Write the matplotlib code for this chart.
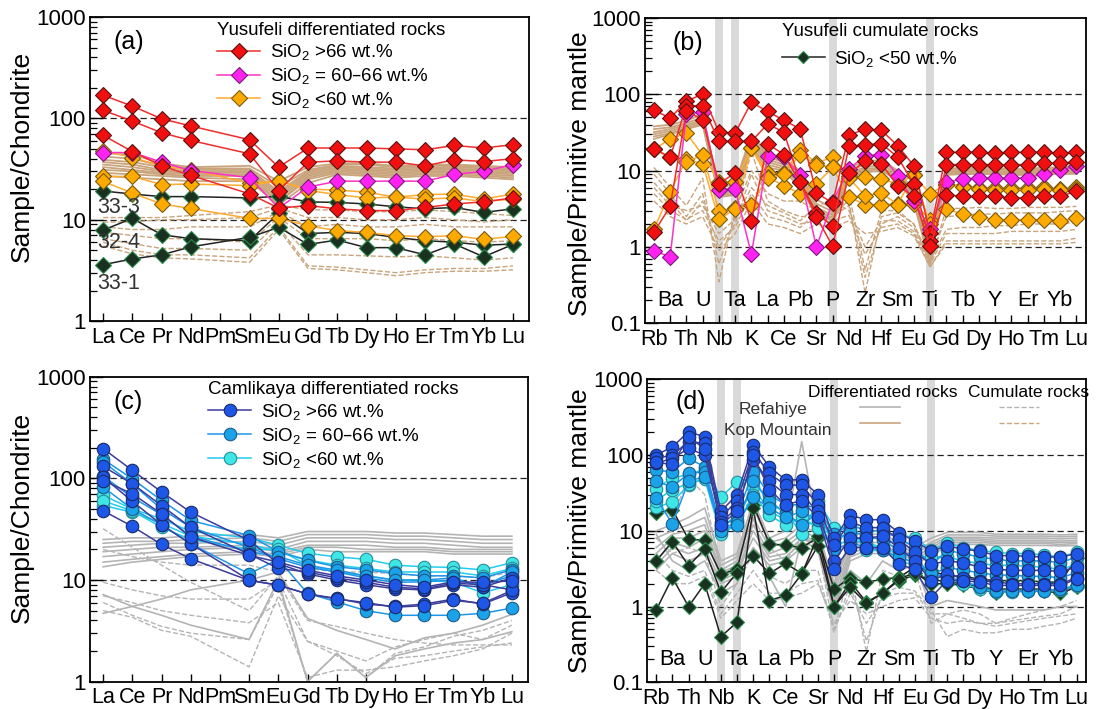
import matplotlib
matplotlib.use('Agg')
import matplotlib.pyplot as plt
from matplotlib.lines import Line2D
from matplotlib.ticker import FixedLocator, LogLocator, NullFormatter

plt.rcParams['font.family'] = ['Liberation Sans', 'DejaVu Sans']
plt.rcParams['mathtext.default'] = 'regular'

# element orders
ree = ['La', 'Ce', 'Pr', 'Nd', 'Pm', 'Sm', 'Eu', 'Gd', 'Tb', 'Dy', 'Ho', 'Er', 'Tm', 'Yb', 'Lu']
ree_used = ['La', 'Ce', 'Pr', 'Nd', 'Sm', 'Eu', 'Gd', 'Tb', 'Dy', 'Ho', 'Er', 'Tm', 'Yb', 'Lu']
spider = ['Rb', 'Ba', 'Th', 'U', 'Nb', 'Ta', 'K', 'La', 'Ce', 'Pb', 'Sr', 'P', 'Nd', 'Zr',
          'Hf', 'Sm', 'Eu', 'Ti', 'Gd', 'Tb', 'Dy', 'Y', 'Ho', 'Er', 'Tm', 'Yb', 'Lu']
grey_bars = ['Nb', 'Ta', 'P', 'Ti']

# ---- (a) Yusufeli, chondrite normalised (La..Lu without Pm)
a_red = [
    [169, 132, 99, 84, 61.5, 33, 51, 51, 51, 50, 49, 54, 51, 55],
    [120, 94, 72, 60.5, 44.7, 19.4, 37, 38, 37, 37, 34, 39, 37.5, 40],
    [68, 47, 34, 27.3, 18, 13, 13.8, 12.8, 12.3, 12.3, 13.2, 14.3, 15, 16.4],
]
a_magenta = [[46, 46, 37, 30.5, 26, 13, 21, 24, 24, 24, 24, 28, 30, 35]]
a_orange = [
    [48, 41, 34, 31, 23, 24, 20, 19.6, 18.7, 16.7, 17.7, 17.9, 16, 17.9],
    [26.7, 26.7, 22.2, 22.5, 21.7, 24.3, 19.4, 17.7, 16.4, 16.7, 16, 16.4, 15.1, 16],
    [23.9, 18.3, 14.3, 12.9, 10.3, 10.3, 8.7, 7.8, 7.5, 6.95, 6.8, 6.95, 6.4, 6.85],
]
a_green = [
    [19.2, 17.9, 16.9, 16.9, 16.4, 17, 15, 14.8, 14.3, 13.4, 12.8, 13.2, 11.8, 12.8],
    [7.9, 10.3, 7.1, 6.5, 6.2, 11.6, 7.3, 7.5, 7.3, 6.7, 6.2, 6.0, 5.6, 5.75],
    [3.6, 4.1, 4.5, 5.4, 6.7, 8.4, 5.7, 6.3, 5.3, 5.3, 4.5, 5.75, 4.3, 5.7],
]
a_tan = [
    [45, 44, 36, 33, 34, 24, 33, 36, 36, 34, 35, 35, 34, 33],
    [42, 40, 34, 32, 32, 21, 31, 35, 35, 33, 34, 34, 33, 32],
    [39, 37, 33, 31, 31, 19, 30, 34, 33, 32, 33, 33, 32, 31],
    [37, 35, 31, 30, 30, 18, 29, 33, 32, 31, 32, 32, 31, 30],
    [35, 33, 30, 29, 29, 17, 28, 32, 31, 30, 31, 31, 30, 29],
    [33, 31, 29, 28, 28, 16, 27, 31, 30, 29, 30, 30, 29, 28],
    [31, 30, 28, 27, 27, 15, 26, 30, 29, 28, 29, 29, 28, 27],
    [29, 28, 27, 26, 25, 15, 25, 29, 28, 27, 28, 28, 27, 26],
    [27, 26, 25, 24, 24, 14, 23, 28, 27, 26, 27, 27, 26, 25],
]
a_tan_dash = [
    [10.5, 10.5, 10.5, 11, 12, 14, 12.5, 12.5, 12, 12, 12.5, 12, 11.5, 11],
    [9.5, 9.5, 10, 10, 10.5, 13, 10.5, 10.5, 10, 10, 10.5, 10, 9.5, 10],
    [8.5, 8, 8, 8.5, 8.5, 12, 8.5, 9, 8.5, 8.5, 9, 8.5, 8.5, 8.5],
    [7.5, 7, 6.5, 6.5, 6, 10.5, 6.5, 6.5, 6.5, 6.2, 6.5, 6.2, 6, 6.2],
    [6.5, 5.8, 5.2, 5.2, 5, 9.5, 4.5, 4.5, 4.4, 4.3, 4.4, 4.2, 4, 4.2],
    [6, 5, 4.5, 4.5, 4.2, 8.5, 3.5, 3.4, 3.2, 3, 3.2, 3.3, 3.3, 3.5],
    [5.5, 4.6, 4.2, 4.1, 3.8, 8, 3.3, 3.2, 3, 2.8, 3, 3.1, 3.1, 3.2],
]
a_sample_names = ['33-3', '32-4', '33-1']

# ---- (b) Yusufeli, primitive mantle normalised
b_red = [
    [61.7, 49, 81, 101, 32, 31, 78.6, 59.6, 45.7, 35.2, 5.1, 3.8, 29, 35.2, 33.8, 21.3, 11.6, 1.52,
     17.4, 17.4, 17.4, 17, 17.4, 17.4, 17.4, 17, 17.4],
    [19.4, 15, 71, 71, 24.2, 24.2, 24.2, 40.8, 31.9, 7.2, 2.8, 1.86, 20.8, 21.9, 22.6, 15.1, 6.7, 1.2,
     12, 12, 12, 12, 12, 12, 12.5, 12.5, 13],
    [1.56, 3.4, 61, 46.4, 6.75, 9.3, 2.17, 22.6, 16.2, 7.0, 2.5, 1.02, 9.3, 13.2, 12.3, 6.35, 4.6, 1.02,
     4.85, 4.6, 4.6, 4.6, 4.4, 4.4, 4.6, 4.6, 5.4],
]
b_magenta = [[0.88, 0.75, 56, 58, 5.5, 5.8, 0.8, 15.4, 15, 8.8, 1.0, 3.9, 10.5, 15.7, 16.2, 8.6, 3.96, 1.7,
              7.0, 7.8, 8.0, 8.0, 8.0, 8.0, 9.1, 10.1, 11.6]]
b_orange = [
    [19, 26, 31, 16, 3.0, 3.2, 20, 9.3, 9.3, 18.8, 12.6, 15, 8.5, 8.2, 7.8, 6.7, 8.8, 4.95,
     6.7, 6.35, 6.0, 5.9, 5.9, 5.9, 6.1, 5.7, 6.1],
    [1.7, 5.25, 14.2, 12.3, 2.3, 3.15, 3.6, 8.2, 6.35, 5.0, 6.75, 11, 4.5, 3.6, 3.6, 3.66, 3.7, 2.28,
     3.1, 2.73, 2.5, 2.28, 2.28, 2.28, 2.28, 2.2, 2.4],
    [19, 15, 12.9, 16.2, 7.1, 7.1, 19.8, 8.0, 9.0, 16.2, 12, 11, 8, 4.7, 5.1, 3.6, 8.8, 2.0,
     6.4, 6.1, 5.8, 5.6, 5.6, 5.5, 5.8, 5.5, 5.8],
]
b_tan = [
    [38, 40, 45, 55, 5.8, 6.8, 30, 16, 14, 10, 4.2, 3.2, 11, 13, 14, 10, 5.5, 0.9, 10.5, 11, 11, 11, 10.5, 10.5, 11, 11, 11.5],
    [35, 37, 42, 50, 5.4, 6.2, 27, 15, 13, 9, 3.7, 2.9, 10, 12, 13, 9.5, 5.1, 0.8, 10, 10.5, 10.5, 10.5, 10, 10, 10.5, 10.5, 11],
    [32, 35, 40, 46, 5.1, 5.7, 24, 14, 12, 8.2, 3.3, 2.6, 9.5, 11, 12, 9, 4.7, 0.75, 9.6, 10, 10, 10, 9.6, 9.7, 10, 10, 10.3],
    [30, 33, 38, 44, 4.9, 5.3, 22, 13, 11.2, 7.3, 3.0, 2.4, 9, 10.5, 11, 8.5, 4.4, 0.7, 9.3, 9.6, 9.7, 9.6, 9.3, 9.3, 9.6, 9.6, 9.8],
    [28, 31, 36, 42, 4.7, 5.0, 20, 12, 10.5, 6.6, 2.8, 2.2, 8.5, 10, 10.5, 8, 4.1, 0.65, 9, 9.3, 9.3, 9.3, 9, 9, 9.3, 9.3, 9.4],
    [26, 30, 35, 40, 4.5, 4.8, 19, 11, 10, 6, 2.6, 2.0, 8, 9.5, 10, 7.5, 3.8, 0.6, 8.8, 9, 9, 9, 8.8, 8.8, 9, 9, 9.1],
]
b_tan_dash = [
    [11, 6, 3.5, 8, 0.35, 3, 10, 5, 4, 4, 3, 2.2, 5, 0.5, 3, 3, 2, 0.6, 3.2, 3.2, 3.3, 3.2, 3.2, 3.3, 3.3, 3.3, 3.4],
    [9, 5, 2.5, 5, 0.6, 2.5, 18, 4, 3, 2.5, 2.5, 2.8, 4, 0.25, 2.5, 2.8, 2, 0.7, 2.5, 2.6, 2.7, 2.7, 2.8, 2.8, 2.8, 2.9, 3.0],
    [7, 4, 2.2, 4, 1.0, 2, 9, 3, 2.5, 2, 2.2, 2.5, 3.5, 0.4, 2, 2.5, 1.8, 0.65, 1.7, 1.8, 1.8, 1.9, 1.9, 2.0, 2.0, 2.0, 2.1],
    [6, 3.5, 3, 3.5, 1.5, 2.3, 6, 3.5, 2.8, 2.2, 3.5, 4, 3, 1.0, 2.2, 2.2, 1.6, 0.6, 1.5, 1.5, 1.5, 1.5, 1.6, 1.6, 1.6, 1.6, 1.7],
    [5, 3, 2.3, 3, 1.2, 1.8, 5, 2.5, 2.2, 1.8, 2.8, 2.2, 2.6, 0.8, 1.8, 2, 1.5, 0.55, 1.2, 1.2, 1.2, 1.2, 1.2, 1.2, 1.2, 1.2, 1.3],
    [4, 2.5, 2.0, 2.5, 0.9, 1.5, 4, 2, 1.8, 1.5, 2, 1.8, 2.2, 1.5, 1.6, 1.8, 1.4, 0.55, 1.1, 1.1, 1.1, 1.1, 1.1, 1.1, 1.1, 1.1, 1.15],
]

# ---- (c) Camlikaya, chondrite normalised
c_dark = [
    [196, 120, 73.5, 46.5, 24.5, 14.5, 11.5, 10, 9, 8.2, 8, 9, 8.5, 10.5],
    [131, 88.6, 54, 33, 18, 13, 12, 10.5, 9.5, 8.5, 8.2, 9.3, 9, 8],
    [48, 33.7, 22.4, 16.2, 9.9, 8.9, 7.3, 6.6, 5.8, 5.5, 5.8, 6.5, 5.8, 7.5],
    [103, 59.5, 35, 22.7, 10, 8.9, 7.3, 6.5, 6, 5.4, 5.6, 6.3, 5.9, 7.9],
    [95, 70.6, 44.7, 26.5, 17.5, 15, 12.5, 11, 10, 9, 8.5, 9.6, 9.5, 9.8],
]
c_mid = [
    [154, 99, 60.7, 38.6, 27.4, 19, 15.6, 13.5, 12.6, 11.6, 11, 11, 10.5, 12.6],
    [145, 88, 50, 33, 21, 16.2, 13.4, 12, 10.5, 9.5, 9.6, 10, 9, 11],
    [82, 50, 35, 22.7, 11.5, 16, 7.4, 6.1, 5.0, 4.5, 4.5, 4.5, 4.7, 5.3],
    [105, 65, 44, 27, 19, 17, 14, 12.5, 11, 10, 10, 10.5, 8.5, 12],
]
c_light = [
    [68, 50, 40, 30, 26, 22, 18.3, 16.9, 16, 14, 13.5, 13.3, 12.6, 14.8],
    [54, 46.5, 36, 27, 22.5, 19, 15.8, 14, 13, 12, 12, 12, 11, 13],
    [60, 48, 33, 25, 20, 20, 14, 12, 11, 10, 10, 9.5, 7.5, 9],
]
c_grey = [
    [25, 26, 26, 27, 28, 26, 30, 30, 30, 29, 29, 28, 27, 27],
    [23, 24, 24, 25, 26, 24, 28, 28, 28, 27, 27, 26, 25, 25],
    [21, 22, 23, 23, 24, 22, 26, 26, 26, 25, 25, 24, 23, 23],
    [19, 20, 21, 21, 22, 20, 24, 24, 24, 23, 23, 22, 21, 21],
    [17, 18, 19, 20, 21, 19, 22, 22, 22, 21, 21, 20, 20, 20],
    [15, 16, 17, 18, 19, 18, 21, 21, 20, 20, 20, 19, 19, 19],
    [13.5, 15, 16, 17, 18, 17, 20, 19, 19, 19, 19, 18, 18, 18],
    [4.7, 5.5, 6.5, 8, 10, 12, 4.2, 3.2, 2.6, 2.1, 2.7, 3.0, 3.6, 4.6],
    [7.2, 5.5, 4.5, 3.6, 2.6, 10, 1.0, 1.9, 1.1, 1.8, 2.1, 2.4, 2.6, 3.1],
]
c_grey_dash = [
    [32, 21, 14, 9.5, 5, 11, 4, 3.5, 3.0, 2.6, 2.4, 2.3, 2.3, 2.3],
    [9.5, 8, 7, 6.5, 6.5, 10, 2.5, 1.8, 1.2, 1.7, 1.8, 2.0, 2.2, 2.4],
    [7, 6, 5, 4.5, 3.8, 6, 1.1, 1.3, 1.3, 1.4, 1.6, 1.8, 2.1, 3.0],
    [6, 4.5, 3.5, 3.0, 2.6, 9, 1.0, 1.9, 1.1, 1.9, 2.2, 2.8, 3.2, 4.0],
    [5, 4.3, 3.2, 2.8, 1.4, 7, 2.5, 2.0, 1.6, 2.2, 2.6, 3.0, 2.6, 3.6],
    [20, 17, 15, 14, 14, 12, 13, 12, 12, 11.5, 11, 11, 10.5, 12],
]

# ---- (d) Camlikaya, primitive mantle normalised
d_dark = [
    [100, 128, 202, 174, 18, 30, 135, 70, 47, 47, 30, 8, 16, 14, 14, 9.4, 7.3, 5.4, 6.3, 5.7, 5.4, 4.7, 4.7, 4.6, 4.5, 4.5, 5.0],
    [90, 100, 150, 143, 15, 25, 110, 57, 40, 40, 22, 6.5, 13, 11, 11, 7.7, 5.2, 3.6, 4.0, 3.8, 3.3, 3.1, 3.0, 3.0, 3.0, 2.9, 3.3],
    [78, 90, 122, 100, 13, 20, 86, 45, 30, 30, 18, 4, 8, 8, 8.5, 6.0, 4.0, 2.2, 2.7, 2.4, 2.2, 2.1, 2.0, 2.0, 2.0, 2.0, 2.4],
    [80, 75, 174, 120, 12, 18, 100, 35, 22, 25, 15, 3.1, 6, 6, 6, 3.6, 3.1, 1.33, 2.2, 2.2, 2.1, 1.9, 1.9, 1.9, 1.9, 1.9, 2.3],
]
d_mid = [
    [63, 60, 90, 70, 11, 16, 60, 30, 22, 22, 20, 9, 12, 10, 10, 8, 6, 3.5, 5.5, 5, 4.5, 4.2, 4, 4, 4, 3.8, 4.5],
    [45, 38, 57, 60, 10.4, 13, 45, 25, 17, 12, 17, 7, 10, 8.5, 7.5, 5.5, 4.5, 2.6, 3.3, 3, 2.8, 2.6, 2.6, 2.5, 2.5, 2.4, 2.8],
    [27, 12.3, 45, 52, 10, 12, 28, 20, 15, 18, 14, 5.5, 7, 6, 5.5, 4.5, 3.8, 2.8, 2.4, 2.2, 1.8, 1.6, 1.6, 1.6, 1.6, 1.7, 1.9],
]
d_light = [
    [36, 50, 55, 65, 28, 44, 50, 22, 18, 9, 25, 11, 11, 5.5, 5.5, 9, 8, 5.6, 6.8, 6, 5.5, 5.2, 5, 5, 4.8, 4.5, 5.2],
    [20.4, 24, 40, 50, 12, 14, 38, 18, 14, 13, 12, 8, 9, 7, 6, 5, 4.5, 4.5, 4.5, 4, 3.7, 3.5, 3.5, 3.4, 3.3, 3.1, 3.6],
    [25, 35, 42, 48, 9, 12, 30, 16, 12, 15, 11, 6, 8, 6.5, 6, 4, 3.5, 2.5, 2.4, 2, 1.7, 1.55, 1.55, 1.6, 1.6, 1.65, 1.88],
]
d_green = [
    [17.2, 19, 7.7, 7.5, 2.68, 3.1, 22, 6.75, 6.4, 6.0, 8.1, 1.7, 2.4, 2.08, 2.3, 2.42, 3.3, 3.0,
     2.5, 2.5, 2.3, 2.2, 2.2, 2.2, 2.1, 2.1, 4.4],
    [4.0, 7.2, 3.45, 5.7, 1.54, 2.8, 4.66, 2.73, 3.7, 2.73, 6.3, 1.0, 2.1, 1.14, 1.5, 2.2, 2.6, 2.3,
     2.1, 2.0, 1.8, 1.7, 1.7, 1.7, 1.7, 1.6, 1.9],
    [0.9, 2.4, 1.0, 2.0, 0.4, 0.62, 20, 1.2, 1.4, 2.7, 8.5, 1.0, 1.8, 1.1, 1.5, 2.3, 2.8, 2.0,
     2.0, 1.9, 1.7, 1.5, 1.6, 1.6, 1.6, 1.5, 1.8],
]
d_grey = [
    [10, 12, 15, 20, 4, 5, 25, 8, 10, 150, 10, 2, 8, 10, 10, 8, 6, 8, 9.5, 9.5, 9.5, 9, 9, 9, 9, 8.8, 9],
    [8, 10, 12, 15, 3.5, 4.5, 20, 7, 8, 12, 9, 1.8, 7, 9, 9, 7, 5.5, 7, 8.8, 8.8, 8.8, 8.5, 8.5, 8.5, 8.5, 8.3, 8.5],
    [6, 9, 10, 12, 3, 4, 15, 6, 7, 10, 8, 1.5, 6, 8, 8, 6.5, 5, 6.5, 8.2, 8.2, 8.2, 8, 8, 8, 8, 7.8, 8],
    [5, 8, 8, 10, 2.8, 3.5, 12, 5, 6, 9, 7, 1.2, 5.5, 7, 7, 6, 4.5, 6, 7.8, 7.8, 7.8, 7.5, 7.5, 7.5, 7.5, 7.3, 7.5],
    [4, 7, 6, 8, 2.5, 3, 10, 4.5, 5, 8, 6.5, 1.0, 5, 6, 6, 5.5, 4.2, 5.5, 7.4, 7.4, 7.4, 7.1, 7.1, 7.1, 7.1, 7, 7.1],
    [3.5, 6, 5, 6, 2.2, 2.8, 8, 4, 4.5, 7, 6, 0.9, 4.5, 5.5, 5.5, 5, 4, 5, 7, 7, 7, 6.8, 6.8, 6.8, 6.8, 6.6, 6.8],
    [3, 5, 4, 5, 2, 2.5, 6, 3.5, 4, 6, 5.5, 0.8, 4, 5, 5, 4.5, 3.8, 4.5, 6.6, 6.6, 6.6, 6.4, 6.4, 6.4, 6.4, 6.3, 6.4],
    [9, 4, 3, 4, 1.5, 2, 15, 2.5, 1.0, 8, 7, 1.5, 3, 2, 4, 3, 3.5, 1.0, 1.2, 1.1, 1.0, 0.9, 0.9, 0.9, 0.9, 1.0, 1.0],
]
d_grey_dash = [
    [20, 15, 50, 30, 3, 3, 25, 6, 4, 8, 6, 0.5, 3, 0.25, 3, 2.5, 3, 0.6, 0.8, 0.7, 0.6, 0.55, 0.6, 0.65, 0.7, 0.75, 0.8],
    [8, 5, 6, 5, 1, 2, 5, 2.5, 2, 3, 3, 0.45, 2, 0.35, 1.5, 1.8, 1.6, 0.9, 0.4, 0.5, 0.45, 0.45, 0.5, 0.5, 0.55, 0.6, 0.7],
    [5, 3, 2.5, 3, 0.8, 1.5, 3, 1.5, 1.5, 2, 2.2, 0.5, 1.5, 0.6, 1.3, 1.5, 1.5, 0.8, 0.8, 0.9, 0.8, 0.6, 0.7, 0.8, 0.9, 1.0, 1.2],
    [3, 2, 2, 2.5, 0.7, 1.2, 2, 1.2, 1.3, 1.5, 2.0, 0.6, 1.2, 0.8, 1.0, 1.2, 1.3, 0.7, 0.6, 0.65, 0.6, 0.6, 0.65, 0.7, 0.75, 0.8, 1.0],
]

# colours
RED = dict(color='#f02c2c', marker='D', mfc='#f01010', mec='#5a1010')
MAG = dict(color='#ff30c8', marker='D', mfc='#ff22f0', mec='#7a1a7a')
ORA = dict(color='#ffaa30', marker='D', mfc='#ffaa00', mec='#7a5a10')
GRN = dict(color='#222222', marker='D', mfc='#1a3020', mec='#2a8a4a')
DBLUE = dict(color='#3c3c9c', marker='o', mfc='#1e56e6', mec='#1a2a6a')
MBLUE = dict(color='#1e96e8', marker='o', mfc='#1aa3e8', mec='#1c5c8c')
LBLUE = dict(color='#22ccee', marker='o', mfc='#3ee6e6', mec='#2a8c9c')
TAN = '#c9a47c'
GREY = '#b4b4b4'

ree_x = [ree.index(e) for e in ree_used]
sp_x = list(range(len(spider)))

fig = plt.figure(figsize=(10.96, 7.09), dpi=100)
ax_a = fig.add_axes([0.0821, 0.5472, 0.4006, 0.4288])
ax_b = fig.add_axes([0.5885, 0.5440, 0.4024, 0.4306])
ax_c = fig.add_axes([0.0821, 0.0385, 0.3996, 0.4302])
ax_d = fig.add_axes([0.5906, 0.0377, 0.4006, 0.4274])


def setup(ax, spider_axis):
    ax.set_yscale('log')
    if spider_axis:
        ax.set_ylim(0.1, 1000)
        ax.set_xlim(-0.55, 26.6)
        major = [0.1, 1, 10, 100, 1000]
        lines = [1, 10, 100]
        ax.set_xticks(sp_x)
        ax.set_xticklabels([n if i % 2 == 0 else '' for i, n in enumerate(spider)])
        for i, n in enumerate(spider):
            if i % 2 == 1:
                ax.text(i, 0.2, n, ha='center', va='center', fontsize=15.5)
        for n in grey_bars:
            i = spider.index(n)
            ax.axvspan(i - 0.24, i + 0.24, color='#d9d9d9', lw=0, zorder=0)
        ylab = 'Sample/Primitive mantle'
    else:
        ax.set_ylim(1, 1000)
        ax.set_xlim(-0.45, 14.55)
        major = [1, 10, 100, 1000]
        lines = [10, 100]
        ax.set_xticks(range(len(ree)))
        ax.set_xticklabels(ree)
        ylab = 'Sample/Chondrite'
    ax.yaxis.set_major_locator(FixedLocator(major))
    ax.set_yticklabels([('%g' % v) for v in major])
    ax.yaxis.set_minor_locator(LogLocator(base=10, subs=range(2, 10)))
    ax.yaxis.set_minor_formatter(NullFormatter())
    ax.tick_params(axis='y', which='major', direction='in', length=9, width=1, labelsize=16, pad=3)
    ax.tick_params(axis='y', which='minor', direction='in', length=5, width=0.9)
    ax.tick_params(axis='x', direction='in', length=6, width=1, labelsize=15.5, pad=4)
    ax.tick_params(top=False, right=False)
    for v in lines:
        ax.axhline(v, color='#222222', ls=(0, (5, 3)), lw=0.9, zorder=1)
    for s in ax.spines.values():
        s.set_linewidth(1.3)
    ax.set_ylabel(ylab, fontsize=19)


def draw(ax, x, rows, style=None, color=None, ls='-', lw=1.0, ms=8, z=3):
    for r in rows:
        if style:
            ax.plot(x, r, lw=lw, ms=ms, mew=0.8, zorder=z, **style)
        else:
            ax.plot(x, r, color=color, ls=ls, lw=lw, zorder=z)


setup(ax_a, False)
setup(ax_b, True)
setup(ax_c, False)
setup(ax_d, True)

# (a)
draw(ax_a, ree_x, a_tan_dash, color=TAN, ls='--', lw=1.0, z=1.5)
draw(ax_a, ree_x, a_tan, color=TAN, lw=1.3, z=1.6)
draw(ax_a, ree_x, a_green, GRN, lw=1.1)
draw(ax_a, ree_x, a_orange, ORA, lw=1.1)
draw(ax_a, ree_x, a_magenta, MAG, lw=1.1)
draw(ax_a, ree_x, a_red, RED, lw=1.1)
for name, yf in zip(a_sample_names, [0.375, 0.257, 0.125]):
    ax_a.text(0.066, yf, name, transform=ax_a.transAxes, ha='center', va='center',
              fontsize=15.5, color='#333333')
ax_a.text(0.089, 0.918, '(a)', transform=ax_a.transAxes, ha='center', va='center', fontsize=18)
hs = [Line2D([], [], lw=1.1, ms=8, mew=0.8, **st) for st in (RED, MAG, ORA)]
ax_a.legend(hs, ['SiO$_2$ >66 wt.%', 'SiO$_2$ = 60–66 wt.%', 'SiO$_2$ <60 wt.%'],
            title='Yusufeli differentiated rocks', loc='upper left', bbox_to_anchor=(0.29, 0.985),
            frameon=False, fontsize=13.5, title_fontsize=13.5, alignment='left',
            handlelength=2.3, handletextpad=0.5, labelspacing=0.2, borderpad=0, borderaxespad=0)

# (b)
draw(ax_b, sp_x, b_tan_dash, color=TAN, ls='--', lw=1.0, z=1.5)
draw(ax_b, sp_x, b_tan, color=TAN, lw=1.3, z=1.6)
draw(ax_b, sp_x, b_orange, ORA, lw=1.1)
draw(ax_b, sp_x, b_magenta, MAG, lw=1.1)
draw(ax_b, sp_x, b_red, RED, lw=1.1)
ax_b.text(0.0975, 0.918, '(b)', transform=ax_b.transAxes, ha='center', va='center', fontsize=18)
hb = [Line2D([], [], lw=1.1, ms=6, mew=0.8, **GRN)]
ax_b.legend(hb, ['SiO$_2$ <50 wt.%'], title='Yusufeli cumulate rocks', loc='upper left',
            bbox_to_anchor=(0.31, 0.985), frameon=False, fontsize=13.5, title_fontsize=13.5,
            alignment='left', handlelength=2.3, handletextpad=0.5, borderpad=0, borderaxespad=0)

# (c)
draw(ax_c, ree_x, c_grey_dash, color=GREY, ls='--', lw=1.0, z=1.5)
draw(ax_c, ree_x, c_grey, color=GREY, lw=1.2, z=1.6)
draw(ax_c, ree_x, c_light, LBLUE, lw=1.1, ms=9)
draw(ax_c, ree_x, c_mid, MBLUE, lw=1.1, ms=9)
draw(ax_c, ree_x, c_dark, DBLUE, lw=1.1, ms=9)
ax_c.text(0.088, 0.918, '(c)', transform=ax_c.transAxes, ha='center', va='center', fontsize=18)
hc = [Line2D([], [], lw=1.1, ms=9, mew=0.8, **st) for st in (DBLUE, MBLUE, LBLUE)]
ax_c.legend(hc, ['SiO$_2$ >66 wt.%', 'SiO$_2$ = 60–66 wt.%', 'SiO$_2$ <60 wt.%'],
            title='Camlikaya differentiated rocks', loc='upper left', bbox_to_anchor=(0.27, 0.985),
            frameon=False, fontsize=13.5, title_fontsize=13.5, alignment='left',
            handlelength=2.3, handletextpad=0.5, labelspacing=0.2, borderpad=0, borderaxespad=0)

# (d)
draw(ax_d, sp_x, d_grey_dash, color=GREY, ls='--', lw=1.0, z=1.5)
draw(ax_d, sp_x, d_grey, color=GREY, lw=1.2, z=1.6)
draw(ax_d, sp_x, d_green, GRN, lw=1.1, ms=7.5)
draw(ax_d, sp_x, d_light, LBLUE, lw=1.1, ms=9)
draw(ax_d, sp_x, d_mid, MBLUE, lw=1.1, ms=9)
draw(ax_d, sp_x, d_dark, DBLUE, lw=1.1, ms=9)
ax_d.text(0.098, 0.926, '(d)', transform=ax_d.transAxes, ha='center', va='center', fontsize=18)
ax_d.text(0.367, 0.956, 'Differentiated rocks', transform=ax_d.transAxes, ha='left', va='center', fontsize=12.5)
ax_d.text(0.731, 0.956, 'Cumulate rocks', transform=ax_d.transAxes, ha='left', va='center', fontsize=12.5)
ax_d.text(0.287, 0.899, 'Refahiye', transform=ax_d.transAxes, ha='center', va='center', fontsize=12.5, color='#333333')
ax_d.text(0.298, 0.832, 'Kop Mountain', transform=ax_d.transAxes, ha='center', va='center', fontsize=12.5, color='#333333')
hd = [Line2D([], [], color=GREY, lw=1.2), Line2D([], [], color=TAN, lw=1.2),
      Line2D([], [], color=GREY, lw=1.0, ls='--'), Line2D([], [], color=TAN, lw=1.0, ls='--')]
ax_d.legend(hd, ['', '', '', ''], ncol=2, loc='upper left', bbox_to_anchor=(0.485, 0.93),
            frameon=False, fontsize=12, handlelength=2.4, handletextpad=0, columnspacing=5.9,
            labelspacing=0.1, borderpad=0, borderaxespad=0)

ax_a.yaxis.set_label_coords(-0.128, 0.543)
ax_b.yaxis.set_label_coords(-0.120, 0.49)
ax_c.yaxis.set_label_coords(-0.128, 0.538)
ax_d.yaxis.set_label_coords(-0.125, 0.5)

fig.savefig('out.png', dpi=100)
